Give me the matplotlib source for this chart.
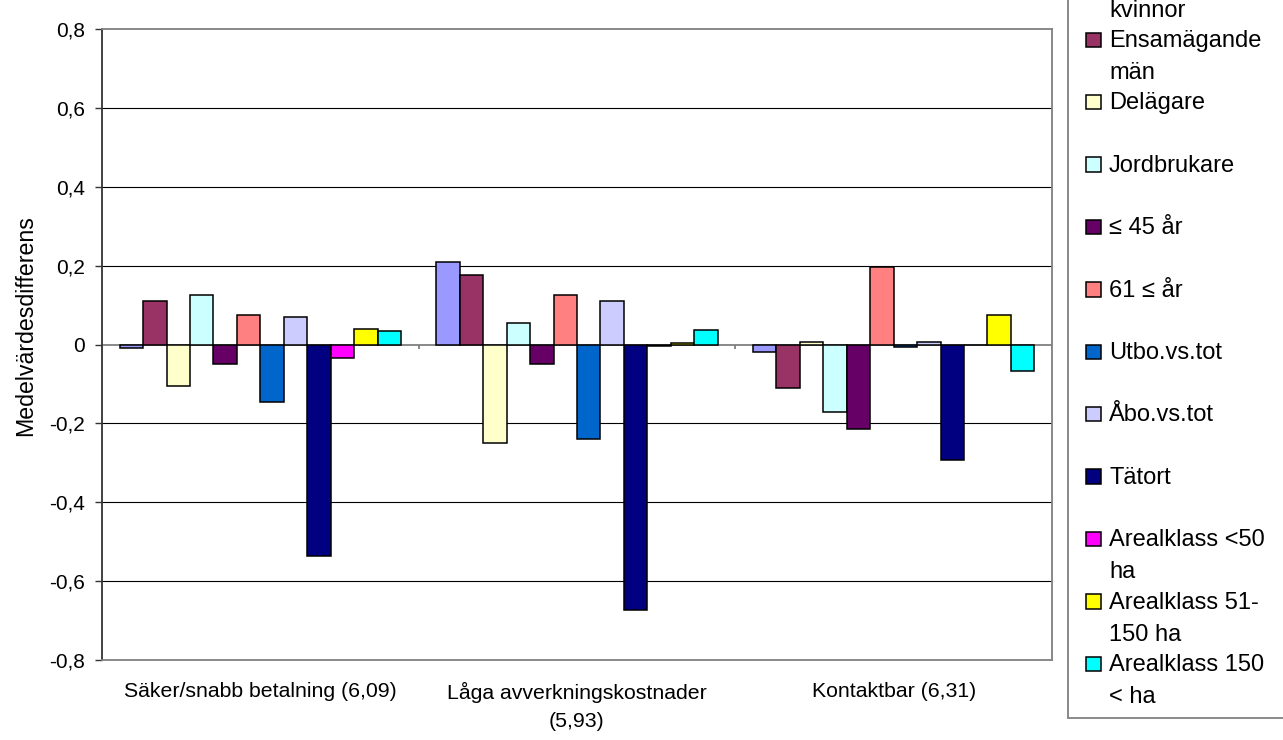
import matplotlib
matplotlib.use("Agg")
import matplotlib.pyplot as plt
from matplotlib.patches import Rectangle
import numpy as np

plt.rcParams['font.family'] = ['Liberation Sans', 'DejaVu Sans']

categories = ["Säker/snabb betalning (6,09)", "Låga avverkningskostnader\n(5,93)", "Kontaktbar (6,31)"]

series_names = ["Ensamägande kvinnor", "Ensamägande män", "Delägare", "Jordbrukare",
                "≤ 45 år", "61 ≤ år", "Utbo.vs.tot", "Åbo.vs.tot", "Tätort",
                "Arealklass <50 ha", "Arealklass 51-150 ha", "Arealklass 150 < ha"]
legend_lines = [["Ensamägande", "kvinnor"], ["Ensamägande", "män"], ["Delägare"], ["Jordbrukare"],
                ["≤ 45 år"], ["61 ≤ år"], ["Utbo.vs.tot"], ["Åbo.vs.tot"], ["Tätort"],
                ["Arealklass <50", "ha"], ["Arealklass 51-", "150 ha"], ["Arealklass 150", "< ha"]]

ens_kvinnor = [-0.010, 0.210, -0.018]
ens_man = [0.110, 0.175, -0.110]
delagare = [-0.105, -0.250, 0.006]
jordbrukare = [0.125, 0.055, -0.172]
under45 = [-0.050, -0.050, -0.213]
over61 = [0.075, 0.125, 0.197]
utbo = [-0.147, -0.240, -0.006]
abo = [0.070, 0.110, 0.006]
tatort = [-0.537, -0.672, -0.294]
areal_50 = [-0.035, -0.005, 0.0]
areal_51_150 = [0.040, 0.005, 0.075]
areal_150 = [0.035, 0.037, -0.066]

series_values = [ens_kvinnor, ens_man, delagare, jordbrukare, under45, over61,
                 utbo, abo, tatort, areal_50, areal_51_150, areal_150]
colors = ["#9999FF", "#993366", "#FFFFCC", "#CCFFFF", "#660066", "#FF8080",
          "#0066CC", "#CCCCFF", "#000080", "#FF00FF", "#FFFF00", "#00FFFF"]

yticks = [-0.8, -0.6, -0.4, -0.2, 0.0, 0.2, 0.4, 0.6, 0.8]
ytick_labels = ["-0,8", "-0,6", "-0,4", "-0,2", "0", "0,2", "0,4", "0,6", "0,8"]

W, H = 1283, 740
fig = plt.figure(figsize=(W / 100, H / 100), dpi=100)
ax = fig.add_axes([102 / W, 1 - 660 / H, 950 / W, 631 / H])

n = len(series_values)
w = 1 / 13.5
x = np.arange(len(categories))
for j, (vals, c) in enumerate(zip(series_values, colors)):
    ax.bar(x + (j - (n - 1) / 2) * w, vals, width=w, color=c, edgecolor="black",
           linewidth=1.1, zorder=3, label=series_names[j])

ax.set_xlim(-0.5, len(categories) - 0.5)
ax.set_ylim(-0.8, 0.8)
ax.set_yticks(yticks)
ax.set_yticklabels(ytick_labels, fontsize=15)
ax.tick_params(axis='y', direction='out', length=5, width=1, pad=7, color="#333333")
ax.set_xticks(x)
ax.set_xticklabels(categories, fontsize=15.3)
ax.tick_params(axis='x', length=0, pad=15.5)
for lbl in ax.get_xticklabels():
    lbl.set_linespacing(1.6)

for yv in yticks:
    if yv not in (0.0, 0.8, -0.8):
        ax.axhline(yv, color="black", linewidth=0.8, zorder=1)
ax.axhline(0, color="#808080", linewidth=1.3, zorder=2)
ax.vlines(np.arange(len(categories) + 1) - 0.5, -0.012, 0, color="#808080", linewidth=1.3, zorder=2)

for s in ["top", "right", "bottom"]:
    ax.spines[s].set_color("#808080")
    ax.spines[s].set_linewidth(1.3)
ax.spines["left"].set_color("#333333")
ax.spines["left"].set_linewidth(1.3)

fig.text(26 / W, 1 - 326 / H, "Medelvärdesdifferens", rotation=90, ha="center", va="center", fontsize=16.7)

# Legend (partially cropped at top/right, as in the reference)
lg = fig.add_axes([0, 0, 1, 1], zorder=5)
lg.set_xlim(0, W)
lg.set_ylim(H, 0)
lg.axis("off")
lg.add_patch(Rectangle((1068, -20), 300, 738, facecolor="white", edgecolor="#808080", linewidth=1.3))
for k, (lines, c) in enumerate(zip(legend_lines, colors)):
    b = 47 + (k - 1) * 62.4
    lg.add_patch(Rectangle((1086, b - 14.5), 14.5, 14.5, facecolor=c, edgecolor="black", linewidth=1.1))
    for li, t in enumerate(lines):
        lg.text(1109, b + li * 32, t, fontsize=17, va="baseline", ha="left")

fig.savefig("out.png", dpi=100)
